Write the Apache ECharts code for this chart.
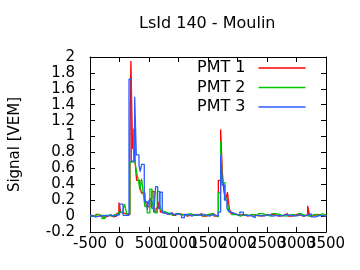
<!doctype html>
<html>
<head>
<meta charset="UTF-8">
<title>LsId 140 - Moulin</title>
<script src="https://cdn.jsdelivr.net/npm/echarts@6/dist/echarts.min.js"></script>
<style>
  html, body { margin: 0; padding: 0; background: #fff; }
  #chart { width: 360px; height: 270px; }
</style>
</head>
<body>
<div id="chart"></div>
<script>
// FADC traces, [time ns, signal VEM], each value held until the next point
var pmt1 = [
  [-500, 0.01], [-450, -0.01], [-400, 0.02], [-350, 0.0], [-300, -0.02], [-250, 0.0],
  [-200, 0.01], [-150, -0.01], [-100, 0.0], [-50, 0.03], [-10, 0.17], [20, 0.05],
  [50, 0.03], [100, 0.02], [176, 0.85], [193, 1.95], [221, 0.85], [260, 0.72],
  [290, 0.45], [345, 0.38], [373, 0.29], [430, 0.22], [460, 0.12], [515, 0.22],
  [550, 0.31], [585, 0.05], [620, 0.1], [665, 0.18], [695, 0.05], [730, 0.03],
  [800, 0.02], [850, 0.04], [900, 0.01], [950, 0.03], [1000, 0.02], [1075, 0.0],
  [1150, 0.02], [1250, 0.01], [1325, 0.03], [1400, 0.0], [1475, 0.02], [1550, 0.03],
  [1600, 0.0], [1675, 0.45], [1714, 1.09], [1742, 0.56], [1770, 0.31], [1800, 0.2],
  [1830, 0.3], [1860, 0.1], [1890, 0.03], [1950, 0.01], [2025, 0.02], [2100, 0.0],
  [2175, 0.02], [2250, 0.01], [2325, 0.0], [2400, 0.02], [2475, 0.01], [2550, 0.02],
  [2625, 0.0], [2700, 0.01], [2775, 0.03], [2850, 0.0], [2925, 0.02], [3000, 0.01],
  [3075, 0.0], [3125, 0.02], [3190, 0.13], [3223, 0.0], [3275, 0.02], [3350, 0.01],
  [3425, 0.0], [3500, 0.01]
];
var pmt2 = [
  [-500, 0.0], [-425, 0.02], [-375, 0.01], [-300, -0.03], [-250, 0.01], [-175, 0.0],
  [-125, 0.02], [-75, 0.01], [-25, 0.05], [20, 0.04], [60, 0.08], [88, 0.15],
  [120, 0.03], [176, 0.68], [240, 1.1], [262, 0.68], [290, 0.55], [320, 0.45],
  [345, 0.33], [375, 0.47], [400, 0.3], [430, 0.12], [470, 0.04], [515, 0.34],
  [550, 0.2], [575, 0.08], [600, 0.04], [640, 0.31], [680, 0.14], [710, 0.07],
  [740, 0.05], [790, 0.03], [850, 0.01], [900, 0.03], [975, 0.02], [1050, 0.01],
  [1125, 0.03], [1200, 0.01], [1275, 0.02], [1350, 0.0], [1425, 0.02], [1500, 0.03],
  [1575, 0.01], [1625, -0.01], [1675, 0.29], [1714, 0.94], [1742, 0.42], [1790, 0.23],
  [1830, 0.15], [1860, 0.05], [1900, 0.02], [1975, 0.0], [2050, 0.02], [2125, 0.01],
  [2200, 0.02], [2300, 0.0], [2350, 0.03], [2425, 0.01], [2500, 0.0], [2575, 0.03],
  [2650, 0.02], [2725, 0.0], [2800, 0.01], [2875, 0.02], [2950, 0.0], [3025, 0.03],
  [3075, 0.01], [3150, 0.0], [3225, 0.02], [3300, 0.01], [3375, 0.03], [3450, 0.01],
  [3500, 0.02]
];
var pmt3 = [
  [-500, 0.01], [-475, -0.01], [-400, 0.0], [-325, 0.01], [-275, 0.0], [-200, 0.02],
  [-150, 0.0], [-100, 0.01], [-50, 0.02], [3, 0.15], [60, 0.01], [161, 1.72],
  [200, 0.69], [257, 1.5], [285, 0.77], [330, 0.64], [350, 0.56], [375, 0.65],
  [420, 0.3], [430, 0.18], [470, 0.08], [500, 0.2], [545, 0.1], [580, 0.05],
  [613, 0.37], [647, 0.1], [686, 0.3], [725, 0.04], [775, 0.02], [825, 0.04],
  [875, 0.02], [925, 0.03], [1000, 0.01], [1050, -0.02], [1100, 0.02], [1175, 0.0],
  [1225, 0.02], [1300, 0.01], [1375, 0.02], [1450, 0.0], [1525, 0.02], [1600, 0.0],
  [1675, 0.05], [1714, 0.77], [1742, 0.39], [1780, 0.2], [1820, 0.1], [1850, 0.06],
  [1880, 0.04], [1925, 0.02], [2000, 0.01], [2040, 0.05], [2100, 0.01], [2175, 0.0],
  [2250, -0.02], [2300, 0.01], [2375, 0.0], [2450, 0.02], [2525, 0.0], [2600, 0.01],
  [2675, 0.0], [2750, 0.02], [2825, 0.01], [2900, 0.0], [2975, 0.02], [3050, 0.0],
  [3125, 0.01], [3175, 0.03], [3250, -0.01], [3325, 0.01], [3400, 0.0], [3500, 0.01]
];
var seriesNames = ['PMT 1', 'PMT 2', 'PMT 3'];
var seriesColors = ['#ff0000', '#00c800', '#2a5cff'];

var font = 'DejaVu Sans';
var tickOpts = { show: true, inside: true, length: 5, lineStyle: { color: '#000' } };
var lineOpts = { show: true, onZero: false, lineStyle: { color: '#000', width: 1 } };

var traces = [pmt1, pmt2, pmt3];
var series = [];
for (var i = 0; i < traces.length; i++) {
  series.push({
    name: seriesNames[i],
    type: 'line',
    step: 'end',
    data: traces[i],
    showSymbol: false,
    xAxisIndex: 0,
    yAxisIndex: 0,
    lineStyle: { color: seriesColors[i], width: 1.3 },
    itemStyle: { color: seriesColors[i] }
  });
}

// gnuplot draws every x label even where they run into each other;
// split them over two bottom axes so echarts doesn't drop any
function xLabels(odd) {
  return {
    fontFamily: font, fontSize: 15, color: '#000', margin: 5,
    showMinLabel: true, showMaxLabel: true,
    formatter: function (v) {
      var isOdd = Math.abs(v % 1000) === 500;
      return isOdd === odd ? String(v) : '';
    }
  };
}

var option = {
  animation: false,
  backgroundColor: '#fff',
  title: {
    text: 'LsId 140 - Moulin',
    left: 139,
    top: 16,
    padding: 0,
    textStyle: { fontFamily: font, fontSize: 16, fontWeight: 'normal', color: '#000' }
  },
  legend: {
    data: seriesNames,
    orient: 'vertical',
    align: 'right',
    left: 197,
    top: 60,
    padding: 0,
    itemWidth: 47,
    itemHeight: 1.5,
    itemGap: 3.5,
    icon: 'rect',
    textStyle: { fontFamily: font, fontSize: 16, color: '#000', padding: [0, 8, 0, 0] }
  },
  grid: { left: 90, right: 34, top: 57, bottom: 38 },
  xAxis: [{
    type: 'value', position: 'bottom',
    min: -500, max: 3500, interval: 500,
    axisLine: lineOpts, axisTick: tickOpts, splitLine: { show: false },
    axisLabel: xLabels(false)
  }, {
    type: 'value', position: 'top',
    min: -500, max: 3500, interval: 500,
    axisLine: lineOpts, axisTick: tickOpts, splitLine: { show: false },
    axisLabel: { show: false }
  }, {
    type: 'value', position: 'bottom',
    min: -500, max: 3500, interval: 500,
    axisLine: { show: false }, axisTick: { show: false }, splitLine: { show: false },
    axisLabel: xLabels(true)
  }],
  yAxis: [{
    type: 'value', position: 'left',
    min: -0.2, max: 2, interval: 0.2,
    name: 'Signal [VEM]', nameLocation: 'middle', nameGap: 67,
    nameTextStyle: { fontFamily: font, fontSize: 15, color: '#000' },
    axisLine: lineOpts, axisTick: tickOpts, splitLine: { show: false },
    axisLabel: {
      fontFamily: font, fontSize: 15, color: '#000', margin: 15,
      formatter: function (v) { return String(Math.round(v * 10) / 10); }
    }
  }, {
    type: 'value', position: 'right',
    min: -0.2, max: 2, interval: 0.2,
    axisLine: lineOpts, axisTick: tickOpts, splitLine: { show: false },
    axisLabel: { show: false }
  }],
  series: series
};

var chart = echarts.init(document.getElementById('chart'));
chart.setOption(option);
</script>
</body>
</html>
